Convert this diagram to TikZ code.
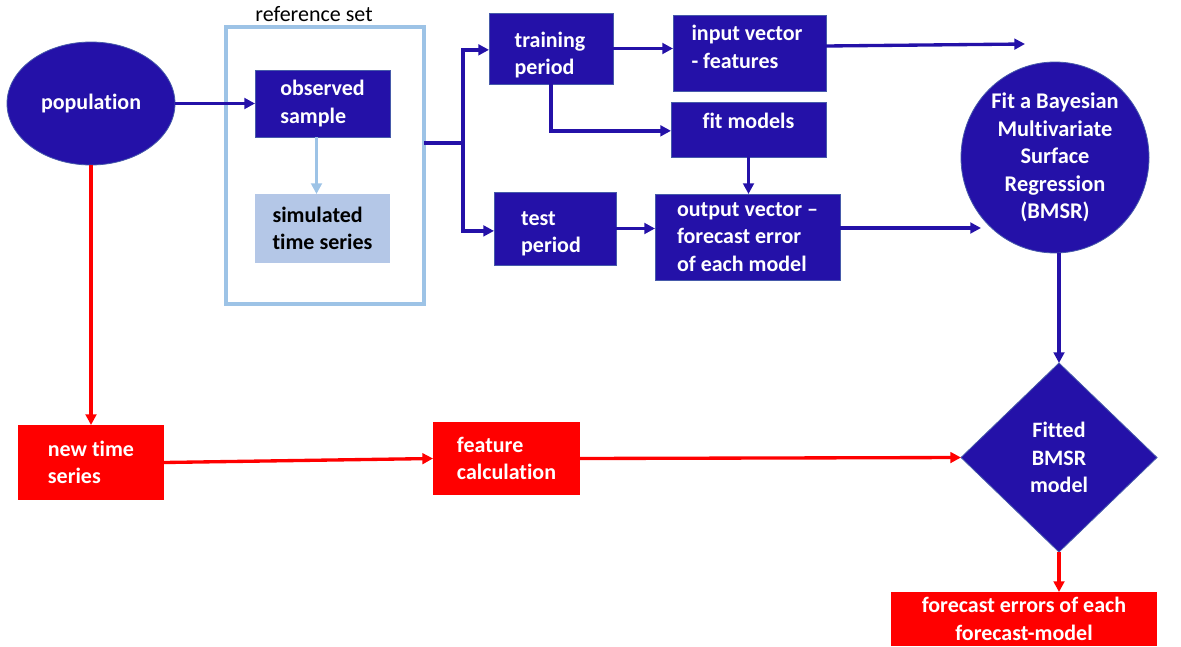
\documentclass[tikz,border=0pt]{standalone}
\usepackage{fontspec}
\setmainfont{Carlito}[Ligatures=NoCommon]
\usetikzlibrary{shapes.geometric,arrows.meta,calc}
\definecolor{dblue}{RGB}{36,17,168}
\definecolor{lblue}{RGB}{157,195,230}
\definecolor{sblue}{RGB}{180,199,231}
\definecolor{bred}{RGB}{255,0,0}
\definecolor{edgeblue}{RGB}{70,90,170}
\begin{document}
\begin{tikzpicture}[x=0.75pt,y=-0.75pt,
  every node/.style={inner sep=0pt, outer sep=0pt},
  txt/.style={font=\fontsize{16.5}{20.5}\selectfont\bfseries, align=left},
  wtxt/.style={txt, text=white},
  bbox/.style={txt, rectangle, fill=dblue, draw=edgeblue, line width=0.6pt, text=white},
  rbox/.style={txt, rectangle, fill=bred, text=white},
  tip/.style={-{Triangle[length=8pt,width=8pt]}},
  barrow/.style={draw=dblue, line width=2.5pt, tip},
  bline/.style={draw=dblue, line width=2.5pt},
  rarrow/.style={draw=bred, line width=2.5pt, tip},
  larrow/.style={draw=lblue, line width=2.5pt, tip}
]
\useasboundingbox (0,0) rectangle (1181,646);
% nodes
\node[bbox, ellipse, minimum width=126pt, minimum height=92.25pt, align=center] (pop) at (91,103.5) {population};
\node[rectangle, draw=lblue, line width=2.3pt, minimum width=148.5pt, minimum height=207.75pt] (ref) at (325,165.5) {};
\node[font=\fontsize{16.5}{20.5}\selectfont] (reflabel) at (314,14) {reference set};
\node[bbox, minimum width=101.25pt, minimum height=50.25pt] (obs) at (322.5,103.5) {observed\\sample};
\node[txt, rectangle, fill=sblue, text=black, minimum width=101.25pt, minimum height=51.75pt] (sim) at (322.5,228.5) {simulated\\time series};
\node[bbox, minimum width=93pt, minimum height=53.25pt] (train) at (551,48.5) {};
\node[wtxt] (traintxt) at (550,55) {training\\period};
\node[bbox, minimum width=91.5pt, minimum height=54.75pt] (test) at (555,228.5) {};
\node[wtxt] (testtxt) at (551,234) {test\\period};
\node[bbox, minimum width=114.75pt, minimum height=57pt] (inp) at (749.5,53) {};
\node[wtxt] (inptxt) at (747,47) {input vector\\- features};
\node[bbox, minimum width=116.25pt, minimum height=41.25pt, text depth=13pt] (fit) at (748.5,129.5) {fit models};
\node[bbox, minimum width=138.75pt, minimum height=64.5pt] (out) at (747.5,237) {output vector --\\forecast error\\of each model};
\node[bbox, ellipse, minimum width=141pt, minimum height=143.25pt, align=center, font=\fontsize{16.8}{20.6}\selectfont\bfseries] (bmsr) at (1055,157.5) {Fit a Bayesian\\Multivariate\\Surface\\Regression\\(BMSR)};
\node[bbox, diamond, minimum width=147pt, minimum height=141.75pt, align=center] (dia) at (1059,457.5) {Fitted\\BMSR\\model};
\node[rbox, minimum width=109.5pt, minimum height=56.25pt] (nts) at (91,462.5) {new time\\series};
\node[rbox, minimum width=110.25pt, minimum height=54.75pt] (fc) at (506.5,458.5) {feature\\calculation};
\node[rbox, minimum width=199.5pt, minimum height=40.5pt, align=center] (fe) at (1024,619) {forecast errors of each\\forecast-model};
% coordinates
\coordinate (split) at (463,143);
\coordinate (inend) at (1025,44);
\coordinate (outend) at (981,228);
% connectors
\draw[barrow] (pop.east) -- (obs.west);
\draw[larrow] ([xshift=-4.5pt]obs.south) -- ([xshift=-4.5pt]obs.south |- sim.north);
\draw[bline] (ref.east |- split) -- (split);
\draw[barrow] (split) |- ([yshift=-1pt]train.west);
\draw[barrow] (split) |- ([yshift=-1.8pt]test.west);
\draw[barrow] (train.east) -- (train.east -| inp.west);
\draw[barrow] (train.south) |- ([yshift=-1pt]fit.west);
\draw[barrow] (fit.south) -- (fit.south |- out.north);
\draw[barrow] (test.east) -- (test.east -| out.west);
\draw[barrow] ([yshift=5.25pt]inp.east) -- (inend);
\draw[barrow] ([yshift=6.75pt]out.east) -- (outend);
\draw[barrow] ([xshift=3pt]bmsr.south) -- ([xshift=3pt]bmsr.south |- dia.north);
\draw[rarrow] (pop.south) -- (nts.north);
\draw[rarrow] (nts.east) -- (fc.west);
\draw[rarrow] (fc.east) -- (dia.west);
\draw[rarrow] (dia.south) -- (dia.south |- fe.north);
\end{tikzpicture}
\end{document}
